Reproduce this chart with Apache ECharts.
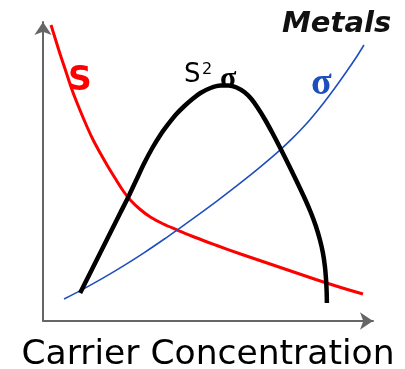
<!DOCTYPE html>
<html>
<head>
<meta charset="utf-8">
<script src="https://cdn.jsdelivr.net/npm/echarts@6/dist/echarts.min.js"></script>
<style>
html,body{margin:0;padding:0;background:#fff;}
#chart{width:405px;height:369px;}
</style>
</head>
<body>
<div id="chart"></div>
<script>
// Carrier concentration (arbitrary units, 0-100) vs. property (arbitrary units, 0-100)
const seebeckS = [
  [2.43, 99.00], [3.65, 94.65], [5.17, 89.30], [6.69, 84.28], [8.81, 77.26],
  [10.94, 71.24], [13.37, 64.88], [15.20, 60.54], [17.33, 56.19], [19.76, 51.51],
  [22.19, 47.16], [24.32, 43.48], [26.44, 40.47], [29.48, 37.29], [32.52, 34.78],
  [36.47, 32.44], [40.73, 30.43], [46.20, 27.93], [52.28, 25.42], [59.88, 22.41],
  [67.48, 19.57], [75.08, 16.72], [82.67, 13.88], [90.27, 11.20], [96.96, 9.03]
];
const conductivity = [
  [6.38, 7.36], [12.46, 10.84], [18.54, 14.58], [24.62, 18.60], [30.70, 22.88],
  [36.78, 27.42], [40.73, 30.50], [46.81, 35.32], [52.89, 40.27], [58.97, 45.42],
  [65.05, 50.77], [71.12, 56.45], [75.08, 60.57], [78.12, 63.98], [81.16, 67.66],
  [84.80, 72.58], [88.45, 77.93], [92.10, 83.61], [95.14, 88.56], [97.26, 92.31]
];
const powerFactor = [
  [11.25, 9.36], [13.68, 14.72], [16.11, 20.07], [18.54, 25.42], [20.97, 30.77],
  [23.40, 36.12], [25.84, 41.47], [28.27, 47.16], [30.70, 52.84], [33.13, 57.86],
  [35.56, 62.21], [37.99, 65.89], [40.43, 69.23], [42.86, 71.91], [45.29, 74.25],
  [47.72, 76.25], [50.76, 77.93], [53.80, 78.76], [56.23, 78.76], [58.66, 78.09],
  [61.09, 76.49], [63.22, 74.15], [65.05, 71.30], [67.17, 67.56], [69.60, 62.71],
  [72.04, 57.53], [74.47, 52.17], [76.90, 46.66], [79.33, 40.97], [81.16, 36.29],
  [82.67, 31.77], [83.89, 27.26], [84.80, 22.91], [85.41, 18.39], [85.78, 13.71],
  [85.96, 9.70], [86.02, 6.02]
];
const xAxisTitle = 'Carrier Concentration';
const labelS = 'S';
const labelPF = ['S', '2', 'σ'];
const labelSigma = 'σ';
const labelMetals = 'Metals';

const chart = echarts.init(document.getElementById('chart'), null, {renderer: 'canvas'});
const axisCommon = {
  type: 'value', min: 0, max: 100,
  axisTick: {show: false}, axisLabel: {show: false}, splitLine: {show: false},
  axisLine: {show: true, symbol: ['none', 'arrow'], symbolSize: [13, 13],
    lineStyle: {color: '#666', width: 2}}
};
chart.setOption({
  animation: false,
  backgroundColor: '#fff',
  grid: {left: 43, right: 32, top: 22, bottom: 48, containLabel: false, outerBoundsMode: 'none'},
  xAxis: Object.assign({}, axisCommon, {
    name: xAxisTitle, nameLocation: 'middle', nameGap: 17,
    nameTextStyle: {fontFamily: 'DejaVu Sans', fontSize: 34.5, color: '#000', verticalAlign: 'top'}
  }),
  yAxis: Object.assign({}, axisCommon),
  series: [
    {type: 'line', data: seebeckS, smooth: 0.33, showSymbol: false,
      lineStyle: {color: '#ff0000', width: 3}},
    {type: 'line', data: conductivity, smooth: 0.33, showSymbol: false,
      lineStyle: {color: '#1f4fbf', width: 1.6}},
    {type: 'line', data: powerFactor, smooth: 0.33, showSymbol: false,
      lineStyle: {color: '#000', width: 4.5, cap: 'butt'}}
  ],
  graphic: [
    {type: 'text', left: 68, top: 65, style: {text: labelS, fill: '#ff0000',
      font: 'bold 33px "DejaVu Sans"'}},
    {type: 'text', left: 184, top: 62, style: {text: labelPF[0], fill: '#000',
      font: '26px "DejaVu Sans"'}},
    {type: 'text', left: 202, top: 62, style: {text: labelPF[1], fill: '#000',
      font: '16px "DejaVu Sans"'}},
    {type: 'text', left: 220, top: 64, style: {text: labelPF[2], fill: '#000',
      font: 'bold 30px "Liberation Serif"'}},
    {type: 'text', left: 311, top: 65, style: {text: labelSigma, fill: '#1f4fbf',
      font: 'bold 38px "Liberation Serif"'}},
    {type: 'text', left: 282, top: 10, style: {text: labelMetals, fill: '#111',
      font: 'italic bold 29px "DejaVu Sans"'}}
  ]
});
</script>
</body>
</html>
